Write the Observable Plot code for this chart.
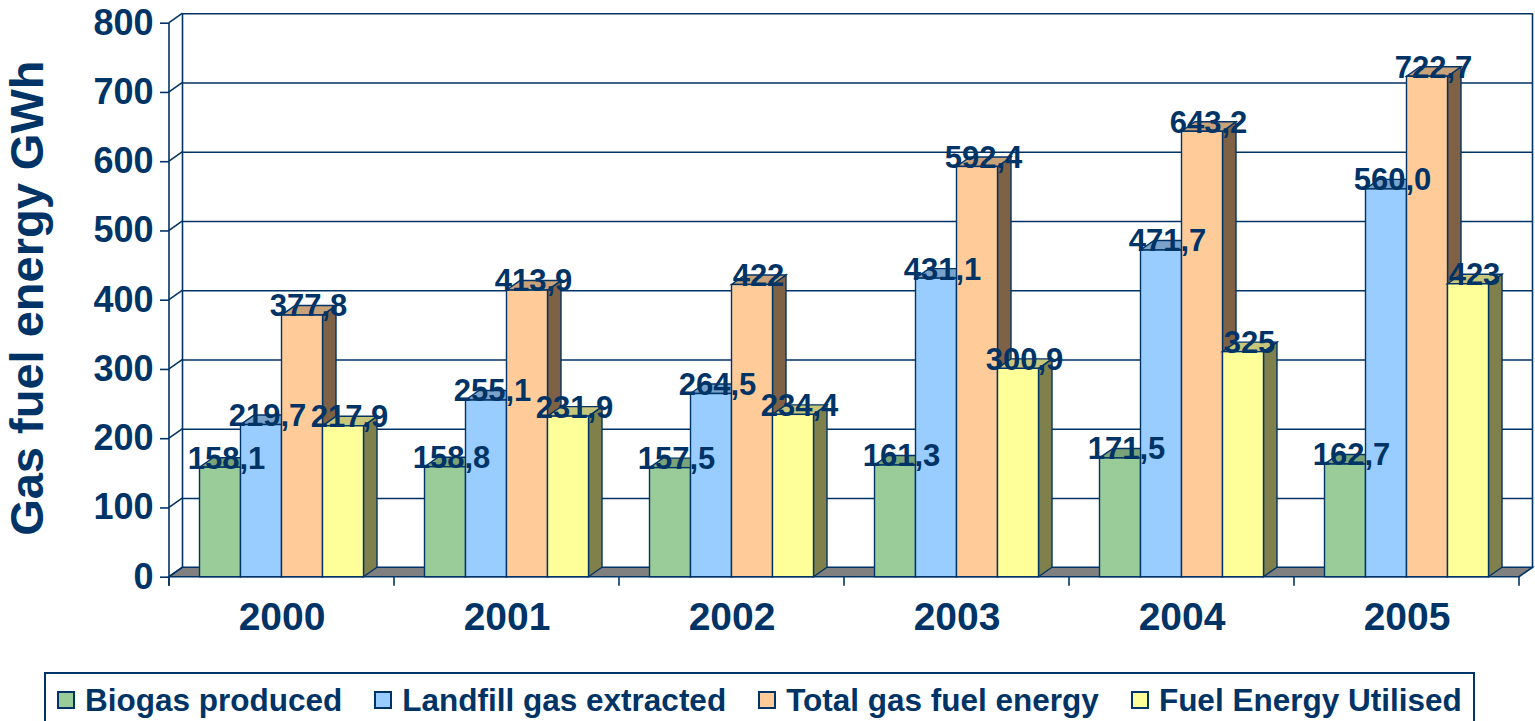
<!DOCTYPE html>
<html>
<head>
<meta charset="utf-8">
<script src="https://cdn.jsdelivr.net/npm/d3@7"></script>
<script src="https://cdn.jsdelivr.net/npm/@observablehq/plot@0.6"></script>
<style>
  html, body { margin: 0; padding: 0; background: #ffffff; overflow: hidden; }
  #wrap { position: relative; width: 1535px; height: 721px; }
  #legend {
    position: absolute; left: 44px; top: 672px; width: 1431px; height: 56px;
    box-sizing: border-box; border: 2px solid #003366; display: flex; align-items: center;
    padding-left: 11px; font-family: "Liberation Sans", Arial, sans-serif; font-weight: bold;
    font-size: 31.5px; color: #003366; white-space: nowrap;
  }
  .item { display: flex; align-items: center; margin-right: 32px; }
  .sw { width: 18px; height: 18px; box-sizing: border-box; border: 2px solid #003366; margin-right: 10px; }
</style>
</head>
<body>
<div id="wrap"><div id="chart"></div><div id="legend"></div></div>
<script>
// ---- data ----
const years = ["2000", "2001", "2002", "2003", "2004", "2005"];
const seriesNames = ["Biogas produced", "Landfill gas extracted", "Total gas fuel energy", "Fuel Energy Utilised"];
const biogas   = [158.1, 158.8, 157.5, 161.3, 171.5, 162.7];
const landfill = [219.7, 255.1, 264.5, 431.1, 471.7, 560.0];
const total    = [377.8, 413.9, 422, 592.4, 643.2, 722.7];
const utilised = [217.9, 231.9, 234.4, 300.9, 325, 423];
const biogasLabels   = ["158,1", "158,8", "157,5", "161,3", "171,5", "162,7"];
const landfillLabels = ["219,7", "255,1", "264,5", "431,1", "471,7", "560,0"];
const totalLabels    = ["377,8", "413,9", "422", "592,4", "643,2", "722,7"];
const utilisedLabels = ["217,9", "231,9", "234,4", "300,9", "325", "423"];
const yTicks = [0, 100, 200, 300, 400, 500, 600, 700, 800];

// ---- style ----
const NAVY = "#003366";
const frontColors = ["#99CC99", "#99CCFF", "#FFCC99", "#FFFF99"];
const topColors   = ["#7AA37A", "#7AA3CC", "#C9A27A", "#C8C67A"];
const sideColors  = ["#4D664D", "#4D6680", "#7F6246", "#80804C"];
const FONT = "'Liberation Sans', Arial, Helvetica, sans-serif";

const W = 1535, H = 660;
const ML = 169, MR = 16, MT = 22.7, MB = 83.3;
const DX = 13.5, DY = -9.5;          // 3-D depth offset (pixels)
const BW = (W - ML - MR) / years.length;  // band width
const PAD = 30.5, BARW = 41;             // bar layout inside band

const values = [biogas, landfill, total, utilised];
const labels = [biogasLabels, landfillLabels, totalLabels, utilisedLabels];
const rows = seriesNames.flatMap((s, j) => years.map((year, i) => ({
  series: s, j, year, value: values[j][i], label: labels[j][i]
})));

const ns = "http://www.w3.org/2000/svg";
function el(tag, attrs) {
  const e = document.createElementNS(ns, tag);
  for (const k in attrs) e.setAttribute(k, attrs[k]);
  return e;
}

// extrude bars into 3-D: add top and side faces using the rendered (scaled) rects
function extrude(j) {
  return function (index, scales, vals, dims, ctx, next) {
    const g = next(index, scales, vals, dims, ctx);
    for (const r of Array.from(g.querySelectorAll("rect"))) {
      const x = +r.getAttribute("x"), y = +r.getAttribute("y");
      const w = +r.getAttribute("width"), h = +r.getAttribute("height");
      const side = el("polygon", {
        points: `${x + w},${y} ${x + w + DX},${y + DY} ${x + w + DX},${y + h + DY} ${x + w},${y + h}`,
        fill: sideColors[j]
      });
      const top = el("polygon", {
        points: `${x},${y} ${x + DX},${y + DY} ${x + w + DX},${y + DY} ${x + w},${y}`,
        fill: topColors[j]
      });
      r.parentNode.insertBefore(side, r);
      r.parentNode.insertBefore(top, r);
    }
    return g;
  };
}

// walls, floor and category ticks, positioned via the plot's scales
function chamber(index, scales, vals, dims) {
  const g = el("g", {stroke: NAVY, "stroke-width": 1.6, fill: "none"});
  const left = dims.marginLeft, right = dims.width - dims.marginRight;
  const y0 = scales.y(0), yTop = scales.y(yTicks[yTicks.length - 1]);
  g.appendChild(el("polygon", {
    points: `${left},${y0} ${right},${y0} ${right + DX},${y0 + DY} ${left + DX},${y0 + DY}`,
    fill: "#808080"
  }));
  g.appendChild(el("line", {x1: left, y1: yTop, x2: left, y2: y0 + 9}));
  g.appendChild(el("line", {x1: left + DX, y1: yTop + DY, x2: left + DX, y2: y0 + DY}));
  g.appendChild(el("line", {x1: right + DX, y1: yTop + DY, x2: right + DX, y2: y0 + DY}));
  for (const t of yTicks) {
    const y = scales.y(t);
    g.appendChild(el("line", {x1: left, y1: y, x2: left + DX, y2: y + DY}));
  }
  for (let i = 0; i <= years.length; i++) {
    const x = i < years.length ? scales.x(years[i]) : right;
    g.appendChild(el("line", {x1: x, y1: y0, x2: x, y2: y0 + 9}));
  }
  return g;
}

const marks = [
  Plot.ruleY(yTicks, {y: d => d, dx: DX, dy: DY, stroke: NAVY, strokeWidth: 1.6}),
  Plot.ruleY(yTicks, {y: d => d, render: chamber}),
];
seriesNames.forEach((s, j) => {
  marks.push(Plot.barY(rows.filter(d => d.j === j), {
    x: "year", y: "value",
    fill: frontColors[j], stroke: NAVY, strokeWidth: 1.4,
    insetLeft: PAD + BARW * j, insetRight: BW - PAD - BARW * (j + 1),
    render: extrude(j)
  }));
});
seriesNames.forEach((s, j) => {
  marks.push(Plot.text(rows.filter(d => d.j === j), {
    x: "year", y: "value", text: "label",
    dx: -BW / 2 + PAD + BARW * j + BARW / 2 + 6, dy: -9,
    fontSize: 31, fontWeight: "bold", fill: NAVY
  }));
});
marks.push(
  Plot.axisY({ticks: yTicks, tickSize: 9, tickPadding: 7, fontSize: 36, fontWeight: "bold",
              tickFormat: d => String(d), strokeWidth: 1.6, label: null, color: NAVY}),
  Plot.axisX({tickSize: 0, tickPadding: 25, fontSize: 39, fontWeight: "bold", label: null, color: NAVY}),
  Plot.text(["Gas fuel energy GWh"], {frameAnchor: "left", rotate: -90, dx: -142, dy: -2,
              textAnchor: "middle", lineAnchor: "middle",
              fontSize: 47, fontWeight: "bold", fill: NAVY})
);

const plot = Plot.plot({
  width: W, height: H,
  marginLeft: ML, marginRight: MR, marginTop: MT, marginBottom: MB,
  x: {type: "band", domain: years, padding: 0, label: null},
  y: {domain: [0, 800], label: null},
  style: {fontFamily: FONT, color: NAVY, background: "#ffffff", overflow: "visible"},
  marks
});
document.getElementById("chart").appendChild(plot);

// legend
const legend = document.getElementById("legend");
seriesNames.forEach((s, j) => {
  const item = document.createElement("div");
  item.className = "item";
  const sw = document.createElement("div");
  sw.className = "sw";
  sw.style.background = frontColors[j];
  const tx = document.createElement("span");
  tx.textContent = s;
  item.appendChild(sw); item.appendChild(tx);
  legend.appendChild(item);
});
</script>
</body>
</html>
